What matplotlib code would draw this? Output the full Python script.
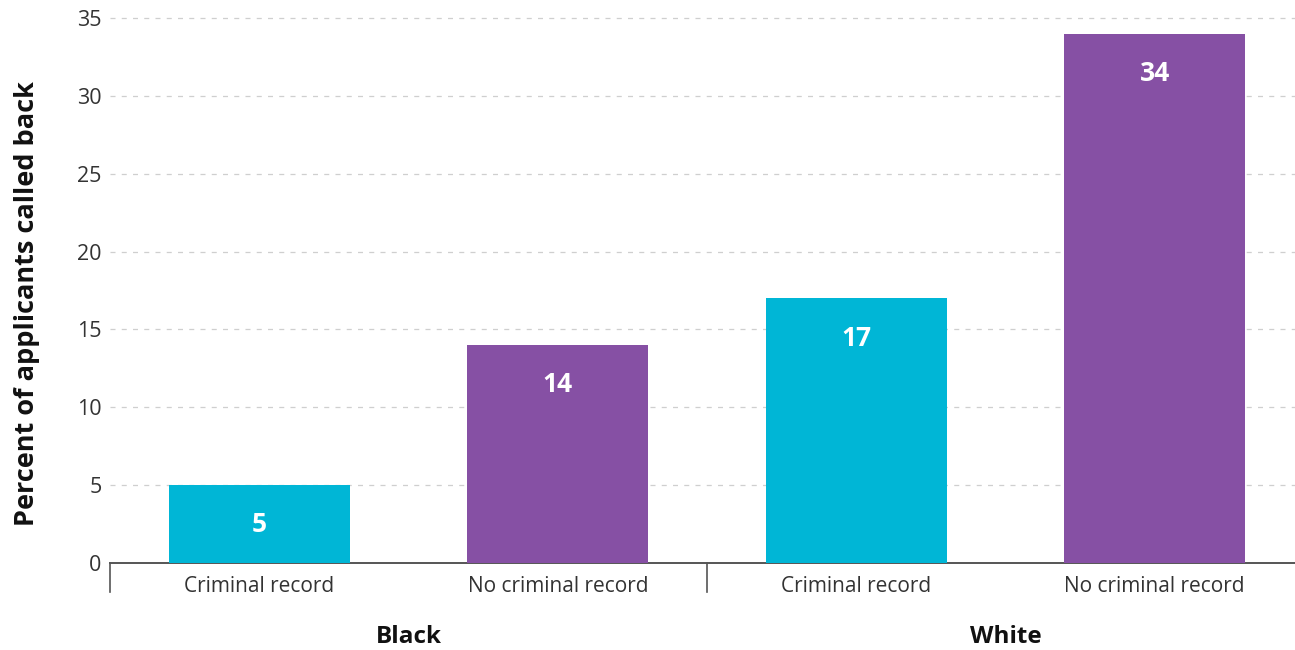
import matplotlib.pyplot as plt

# Data
categories = ["Criminal record", "No criminal record", "Criminal record", "No criminal record"]
callback_pct = [5, 14, 17, 34]
groups = ["Black", "White"]
bar_colors = ["#00B6D6", "#8650A4", "#00B6D6", "#8650A4"]
y_ticks = [0, 5, 10, 15, 20, 25, 30, 35]

plt.rcParams['font.family'] = ['Open Sans', 'DejaVu Sans']

fig = plt.figure(figsize=(12.95, 6.5), dpi=100)
ax = fig.add_axes([0.085, 0.134, 0.915, 0.862])

x = list(range(len(categories)))
bars = ax.bar(x, callback_pct, width=0.605, color=bar_colors, zorder=3)

# Value labels inside the top of each bar
for xi, v in zip(x, callback_pct):
    ax.text(xi, v - 2.55, str(v), ha='center', va='center',
            color='white', fontsize=19, fontweight='bold', zorder=4)

ax.set_xlim(-0.5, 3.47)
ax.set_ylim(0, 36)
ax.set_yticks(y_ticks)
ax.set_yticklabels([str(t) for t in y_ticks], fontsize=15.5, color='#333333')

# Dashed horizontal grid lines (not at zero)
for t in y_ticks[1:]:
    ax.axhline(t, color='#cfcfcf', linestyle=(0, (4, 5)), linewidth=0.9, zorder=1)

ax.set_xticks(x)
ax.set_xticklabels(categories, fontsize=15, color='#333333')
ax.tick_params(axis='both', length=0)
ax.tick_params(axis='x', pad=9.5)
ax.tick_params(axis='y', pad=6)

for side in ['left', 'right', 'top']:
    ax.spines[side].set_visible(False)
ax.spines['bottom'].set_color('#555555')
ax.spines['bottom'].set_linewidth(1.4)

# Group dividers below the axis
for xd in [-0.5, 1.5]:
    ax.plot([xd, xd], [0, -1.85], color='#555555', linewidth=1.2, clip_on=False)

# Group labels
for gi, g in enumerate(groups):
    ax.text(gi * 2 + 0.5, -4.75, g, ha='center', va='center',
            fontsize=17.5, fontweight='bold', color='#111111')

ax.set_ylabel("Percent of applicants called back", fontsize=19.5, fontweight='bold',
              color='#111111')
ax.yaxis.set_label_coords(-0.059, 0.4625)

plt.savefig("out.png", dpi=100)
